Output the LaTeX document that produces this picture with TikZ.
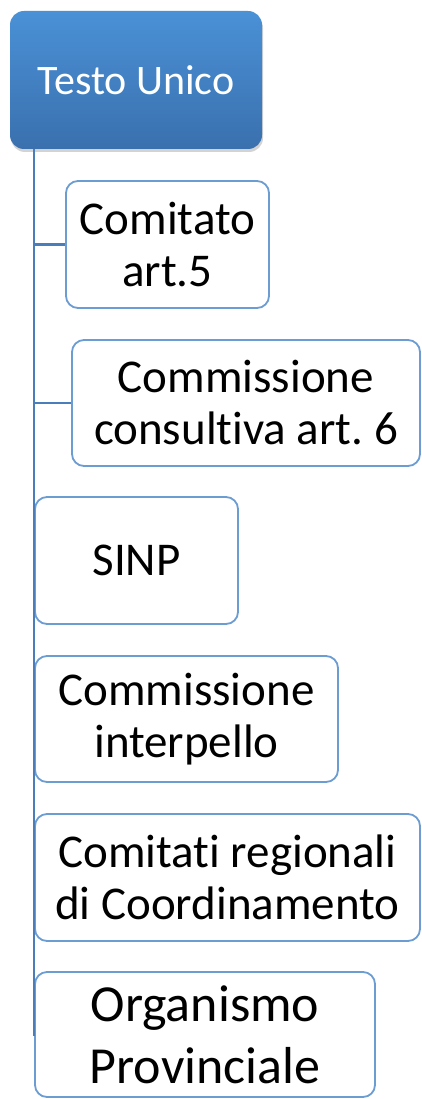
\documentclass[tikz,border=0pt]{standalone}
\usepackage{fontspec}
\setmainfont{Carlito}[Ligatures=NoCommon,Contextuals=NoAlternate]
\usetikzlibrary{shadows}
\definecolor{topblue}{HTML}{4A91D6}
\definecolor{botblue}{HTML}{3A70AE}
\definecolor{edgeblue}{HTML}{6B9CD2}
\definecolor{linkblue}{HTML}{4A7EBB}
\frenchspacing

\begin{document}
\begin{tikzpicture}[x=1pt,y=-1pt,
    rootbox/.style={rounded corners=14pt, top color=topblue, bottom color=botblue, draw=none, text=white, inner sep=0pt, font=\fontsize{42}{46}\selectfont, drop shadow={shadow xshift=1pt, shadow yshift=-3pt, opacity=0.35}},
    childbox/.style={draw=edgeblue, line width=1.8pt, rounded corners=12pt, fill=white, align=center, inner sep=0pt, font=\fontsize{47}{52}\selectfont},
    link/.style={draw=linkblue, line width=2.6pt}]
        \useasboundingbox (0,0) rectangle (421,1099);
        %root
        \node[rootbox, minimum width=252pt, minimum height=138pt] (testo) at (136,80) {Testo Unico};
        \coordinate (spine) at ([xshift=24pt]testo.south west);

        %children
        \node[childbox, minimum width=203pt, minimum height=127pt] (art5) at (167.5,244.5) {Comitato\\art.5};
        \node[childbox, minimum width=348pt, minimum height=126pt] (art6) at (246,403) {Commissione\\consult\kern0pt iva art. 6};
        \node[childbox, minimum width=203pt, minimum height=127pt] (sinp) at (136.5,560.5) {SINP};
        \node[childbox, minimum width=303pt, minimum height=126pt] (interp) at (186.5,719) {Commissione\\interpello};
        \node[childbox, minimum width=385pt, minimum height=127pt] (region) at (227.5,877.5) {Comitat\kern0pt i regionali\\di Coordinamento};
        \node[childbox, minimum width=340pt, minimum height=125pt, font=\fontsize{52}{62}\selectfont] (prov) at (205,1034.5) {Organismo\\Provinciale};

        %links
        \draw[link] (spine) |- (art5.west);
        \draw[link] (spine) |- (art6.west);
        \draw[link] (spine) |- (sinp.west);
        \draw[link] (spine) |- (interp.west);
        \draw[link] (spine) |- (region.west);
        \draw[link] (spine) |- (prov.west);
    \end{tikzpicture}
\end{document}
